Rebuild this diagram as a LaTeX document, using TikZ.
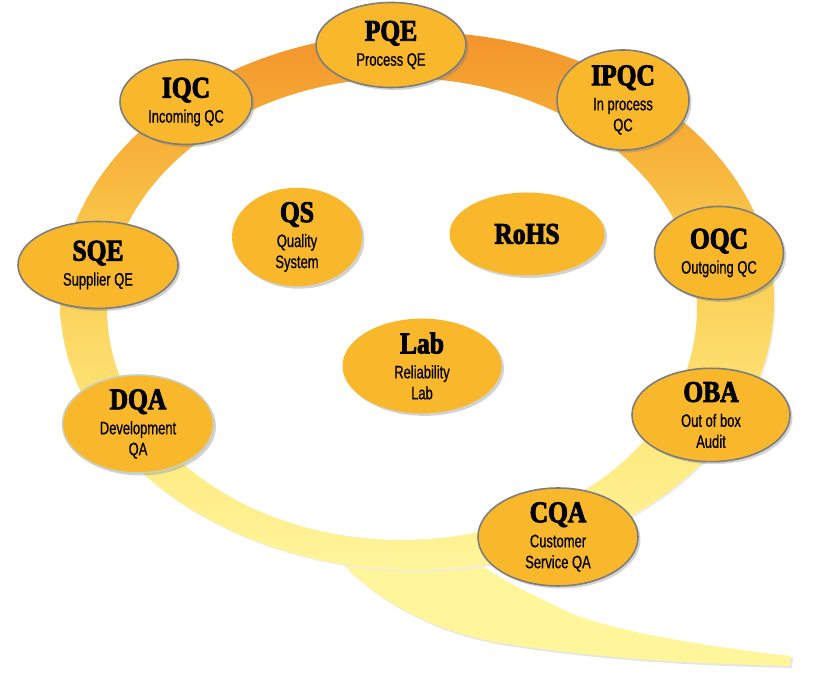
\documentclass[tikz,border=0pt]{standalone}
\usepackage{fontspec}
\usetikzlibrary{shapes.geometric,shadows}
\newfontfamily\titlefont[FakeStretch=0.85,BoldFeatures={FakeBold=3}]{Liberation Serif}
\newfontfamily\labelfont[FakeStretch=0.72,FakeBold=0.6]{Liberation Sans}
\definecolor{ovalfill}{RGB}{249,184,44}
\definecolor{ovalline}{RGB}{125,125,125}
\definecolor{ringtop}{RGB}{243,148,44}
\definecolor{ringorange}{RGB}{246,170,52}
\definecolor{ringmid}{RGB}{250,202,78}
\definecolor{ringpale}{RGB}{254,232,125}
\definecolor{ringlow}{RGB}{255,245,155}
\pgfdeclareverticalshading{ringshade}{100bp}{color(0bp)=(ringlow); color(25bp)=(ringlow); color(38bp)=(ringpale); color(55bp)=(ringmid); color(67bp)=(ringorange); color(75bp)=(ringtop); color(100bp)=(ringtop)}
\newcommand\qtitle[1]{{\titlefont\bfseries\fontsize{30}{30}\selectfont #1}\\[4pt]}

\begin{document}
\begin{tikzpicture}[x=1pt,y=1pt,
    oval/.style={ellipse,fill=ovalfill,draw=ovalline,line width=1.6pt,inner sep=0pt,align=center,
      font=\labelfont\fontsize{18}{21}\selectfont,
      drop shadow={shadow xshift=2.5pt,shadow yshift=-2.5pt,opacity=0.35}},
    midoval/.style={oval,draw=none}]
    \useasboundingbox (0,0) rectangle (823,674);
    % tail of the Q
    \fill[gray!20] (332,123) .. controls (362,83) and (422,43) .. (502,29) .. controls (602,13) and (702,8) .. (792,6) -- (793,16) .. controls (702,26) and (602,43) .. (562,64) .. controls (522,83) and (492,98) .. (472,116) -- cycle;
    \fill[ringlow] (330,125) .. controls (360,85) and (420,45) .. (500,31) .. controls (600,15) and (700,10) .. (790,8) -- (791,18) .. controls (700,28) and (600,45) .. (560,66) .. controls (520,85) and (490,100) .. (470,118) -- cycle;
    % ring
    \fill[gray!15] (418.5,371.5) ellipse (357 and 269);
    \fill[white] (402,365) ellipse (295 and 231);
    \shade[shading=ringshade,even odd rule] (417,373) ellipse (357 and 269) (402,365) ellipse (295 and 231);
    % ovals on the ring
    \node[oval,minimum width=150,minimum height=85] (pqe) at (391,629) {\qtitle{PQE}Process QE};
    \node[oval,minimum width=132,minimum height=85] (iqc) at (186,572) {\qtitle{IQC}Incoming QC};
    \node[oval,minimum width=132,minimum height=100] (ipqc) at (623,574) {\qtitle{IPQC}In process\\QC};
    \node[oval,minimum width=160,minimum height=87] (sqe) at (98,409) {\qtitle{SQE}Supplier QE};
    \node[oval,minimum width=129,minimum height=93] (oqc) at (719,421) {\qtitle{OQC}Outgoing QC};
    \node[oval,draw={rgb,255:red,200;green,208;blue,190},minimum width=151,minimum height=84] (dqa) at (138,250) {\qtitle{DQA}Development\\QA};
    \node[oval,minimum width=158,minimum height=90] (oba) at (711,259) {\qtitle{OBA}Out of box\\Audit};
    \node[oval,minimum width=160,minimum height=87] (cqa) at (558,137) {\qtitle{CQA}Customer\\Service QA};
    % ovals inside
    \node[midoval,minimum width=130,minimum height=87] (qs) at (297,437) {\qtitle{QS}Quality\\System};
    \node[midoval,minimum width=155,minimum height=83] (rohs) at (527,440) {{\titlefont\bfseries\fontsize{30}{30}\selectfont RoHS}};
    \node[midoval,minimum width=159,minimum height=88] (lab) at (422,308) {\qtitle{Lab}Reliability\\Lab};
\end{tikzpicture}
\end{document}
